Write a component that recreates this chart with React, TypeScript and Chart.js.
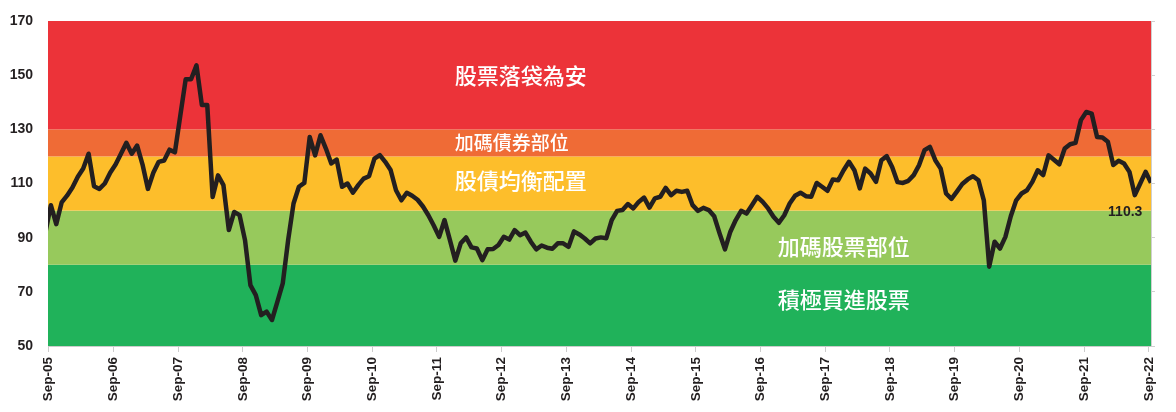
import React, { useEffect, useRef } from 'react';
import { Chart, registerables } from 'chart.js';

Chart.register(...registerables);

// Tick labels on the x axis (one per September)
const tickLabels = [
  'Sep-05', 'Sep-06', 'Sep-07', 'Sep-08', 'Sep-09', 'Sep-10', 'Sep-11', 'Sep-12', 'Sep-13',
  'Sep-14', 'Sep-15', 'Sep-16', 'Sep-17', 'Sep-18', 'Sep-19', 'Sep-20', 'Sep-21', 'Sep-22',
];

// Monthly index values (partially visible Aug-05, then Sep..Aug per year)
const aug2005 = [92];
const y2005 = [102, 95, 103, 105.5, 108.5, 112.5, 115.5, 121, 109, 108, 110, 114];
const y2006 = [117, 121, 125, 121, 124, 117, 108, 114, 118, 118.5, 122.5, 121.5];
const y2007 = [135, 148.5, 148.5, 153.6, 139, 139, 105, 113, 109.4, 92.8, 99.5, 98.3];
const y2008 = [89.1, 72.5, 68.8, 61.4, 62.7, 59.6, 66.3, 73.1, 89.1, 102.6, 108.8, 110.2];
const y2009 = [127.2, 120.4, 127.8, 122.9, 117.4, 118.8, 108.8, 110, 106.6, 109.4, 111.8, 112.7];
const y2010 = [119.2, 120.5, 118, 115, 107.5, 103.8, 106.6, 105.5, 104, 101.5, 98.3, 94.5];
const y2011 = [90.3, 96.5, 89.1, 81.5, 87.9, 90.1, 86.4, 86, 81.7, 85.7, 85.8, 87.3];
const y2012 = [90.3, 89.3, 92.8, 90.9, 91.9, 88.5, 85.7, 87.1, 86.3, 85.9, 87.9, 87.9];
const y2013 = [86.6, 92.3, 91.2, 89.7, 87.9, 89.7, 90.1, 89.8, 96.5, 99.9, 100.2, 102.4];
const y2014 = [100.8, 103.2, 104.8, 101.1, 104.5, 105.1, 108.4, 105.7, 107.3, 106.9, 107.3, 102];
const y2015 = [99.9, 101, 100.2, 97.9, 91.6, 85.7, 92.2, 96.5, 99.9, 98.9, 102, 105.1];
const y2016 = [103.2, 100.8, 97.7, 95.5, 98.3, 102.6, 105.5, 106.6, 105.3, 105.1, 110.2, 108.8];
const y2017 = [107.3, 111.5, 111.2, 114.9, 118, 114.9, 108.2, 115.5, 113.7, 110.6, 118.6, 120.1];
const y2018 = [116.1, 110.5, 110.2, 111, 113.1, 116.8, 122.3, 123.5, 118.6, 115.5, 106.3, 104.3];
const y2019 = [107, 109.8, 111.5, 112.7, 111.2, 103.8, 79.3, 88.5, 86, 90.3, 97.9, 103.8];
const y2020 = [106.3, 107.5, 110.6, 114.9, 113.1, 120.4, 118.8, 117.1, 122.9, 124.5, 125, 133.4];
const y2021 = [136.4, 135.8, 127.2, 127, 125.4, 116.8, 118.4, 117.4, 114.3, 105.7, 110, 114.3];
const y2022 = [110.3];

const series = [
  ...aug2005, ...y2005, ...y2006, ...y2007, ...y2008, ...y2009, ...y2010, ...y2011, ...y2012,
  ...y2013, ...y2014, ...y2015, ...y2016, ...y2017, ...y2018, ...y2019, ...y2020, ...y2021, ...y2022,
];

// Zones
const bandEdges = [50, 80, 100, 120, 130, 170];
const bandColors = ['#20B25A', '#97C95C', '#FDBE2B', '#EF6B36', '#EC3339'];
const zoneNames = ['積極買進股票', '加碼股票部位', '股債均衡配置', '加碼債券部位', '股票落袋為安'];
const yTickValues = [50, 70, 90, 110, 130, 150, 170];
const lastLabel = '110.3';

const SANS = '"Liberation Sans", Arial, sans-serif';
const CJK = '"Noto Sans CJK TC", "Noto Sans CJK SC", sans-serif';

const bandsPlugin = {
  id: 'bands',
  beforeDraw(chart: any) {
    const { ctx, chartArea: a, scales } = chart;
    const y = scales.y;
    const x = scales.x;
    ctx.save();
    for (let i = 0; i < bandColors.length; i++) {
      const top = y.getPixelForValue(bandEdges[i + 1]);
      const bot = y.getPixelForValue(bandEdges[i]);
      ctx.fillStyle = bandColors[i];
      ctx.fillRect(a.left, top, a.right - a.left, bot - top);
    }
    // zone captions: [zone index, x (months), y (value), font size]
    const placements: [number, number, number, number][] = [
      [4, 75.3, 149.8, 22],
      [3, 75.3, 125.2, 19],
      [2, 75.3, 110.9, 22],
      [1, 135.2, 86.6, 22],
      [0, 135.2, 67.0, 22],
    ];
    ctx.fillStyle = '#ffffff';
    ctx.textAlign = 'left';
    ctx.textBaseline = 'middle';
    for (const [zi, xv, yv, size] of placements) {
      ctx.font = `500 ${size}px ${CJK}`;
      ctx.fillText(zoneNames[zi], x.getPixelForValue(xv), y.getPixelForValue(yv));
    }
    ctx.restore();
  },
  afterDatasetsDraw(chart: any) {
    const { ctx, scales } = chart;
    ctx.save();
    ctx.font = `bold 14px ${SANS}`;
    ctx.fillStyle = '#231F20';
    ctx.textAlign = 'right';
    ctx.textBaseline = 'middle';
    ctx.fillText(lastLabel, scales.x.getPixelForValue(202.8), scales.y.getPixelForValue(99.3));
    ctx.restore();
  },
};

export default function App() {
  const ref = useRef<HTMLCanvasElement>(null);
  useEffect(() => {
    document.body.style.margin = '0';
    const points = series.map((v, i) => ({ x: i - 1 + 0.4, y: v }));
    const chart = new Chart(ref.current as HTMLCanvasElement, {
      type: 'line',
      data: {
        datasets: [
          {
            data: points,
            borderColor: '#231F20',
            borderWidth: 4.5,
            pointRadius: 0,
            tension: 0,
            borderJoinStyle: 'round',
            clip: 0,
          } as any,
        ],
      },
      options: {
        animation: false,
        responsive: false,
        devicePixelRatio: 1,
        layout: { padding: { top: 21, left: 0, right: 0, bottom: 0 } },
        plugins: { legend: { display: false }, tooltip: { enabled: false } },
        scales: {
          x: {
            type: 'linear',
            min: -0.13,
            max: 204.4,
            afterBuildTicks: (s: any) => {
              s.ticks = tickLabels.map((_, k) => ({ value: k * 12 }));
            },
            afterFit: (s: any) => {
              s.height = 66;
            },
            ticks: {
              autoSkip: false,
              minRotation: 90,
              maxRotation: 90,
              padding: 5,
              color: '#231F20',
              font: { family: SANS, size: 13.5, weight: 'bold' },
              callback: (_v: any, i: number) => tickLabels[i],
            },
            grid: { drawOnChartArea: false, drawTicks: true, tickLength: 6, color: '#cccccc' },
            border: { display: true, color: '#cccccc' },
          },
          y: {
            type: 'linear',
            position: 'left',
            min: 50,
            max: 170,
            afterBuildTicks: (s: any) => {
              s.ticks = yTickValues.map((v) => ({ value: v }));
            },
            afterFit: (s: any) => {
              s.width = 48;
            },
            ticks: {
              padding: 0,
              color: '#231F20',
              font: { family: SANS, size: 14, weight: 'bold' },
            },
            grid: {
              display: true,
              drawOnChartArea: false,
              drawTicks: true,
              tickLength: 15,
              color: 'rgba(0,0,0,0)',
            },
            border: { display: false },
          },
          y2: {
            type: 'linear',
            position: 'right',
            min: 50,
            max: 170,
            afterBuildTicks: (s: any) => {
              s.ticks = yTickValues.map((v) => ({ value: v }));
            },
            afterFit: (s: any) => {
              s.width = 25;
            },
            ticks: { display: false },
            grid: { drawOnChartArea: false, drawTicks: true, tickLength: 4, color: '#d0d0d0' },
            border: { display: true, color: '#d0d0d0' },
          },
        },
      } as any,
      plugins: [bandsPlugin],
    });
    return () => chart.destroy();
  }, []);
  return (
    <div style={{ width: 1176, height: 412 }}>
      <canvas ref={ref} width={1176} height={412} style={{ display: 'block' }} />
    </div>
  );
}
